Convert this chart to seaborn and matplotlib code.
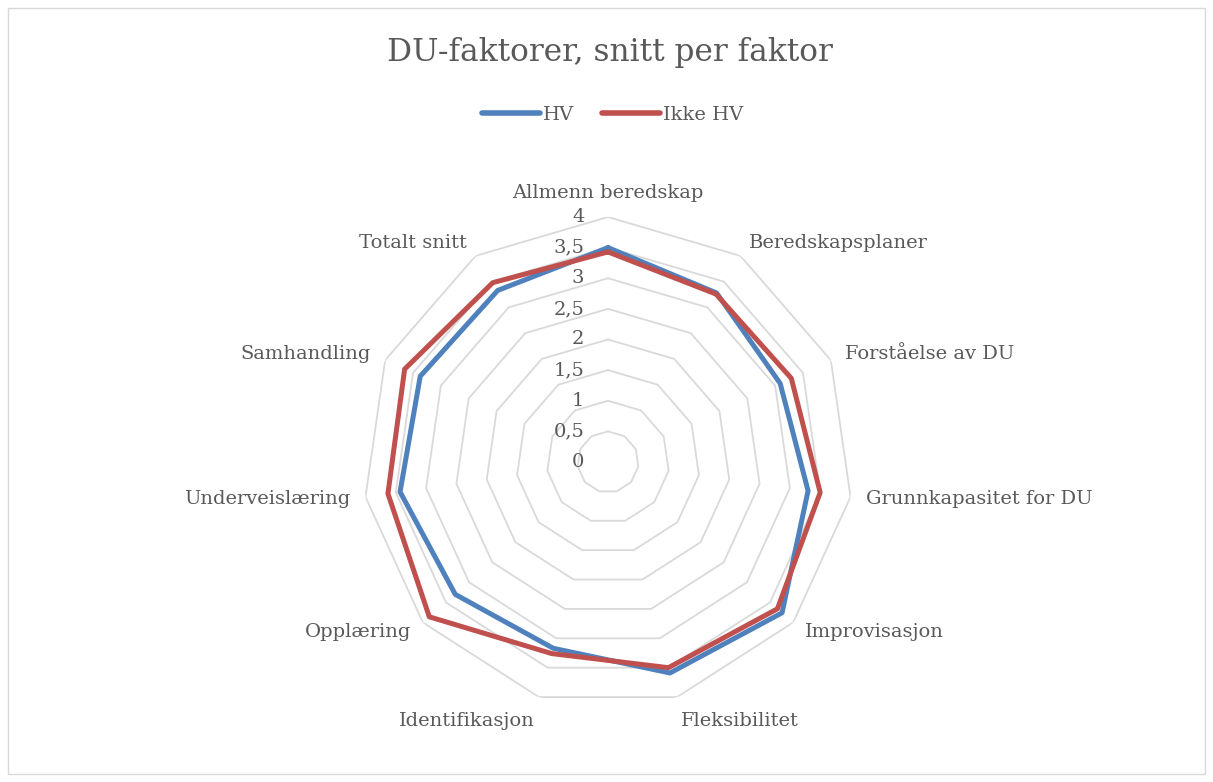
import numpy as np
import pandas as pd
import matplotlib
matplotlib.use("Agg")
import matplotlib.pyplot as plt
import matplotlib.transforms as mtransforms
from matplotlib.patches import Rectangle
import seaborn as sns

# Chart data
CATEGORIES = [
    "Allmenn beredskap", "Beredskapsplaner", "Forståelse av DU",
    "Grunnkapasitet for DU", "Improvisasjon", "Fleksibilitet",
    "Identifikasjon", "Opplæring", "Underveislæring", "Samhandling",
    "Totalt snitt",
]
HV = [3.50, 3.28, 3.09, 3.30, 3.76, 3.59, 3.17, 3.30, 3.43, 3.37, 3.33]
IKKE_HV = [3.43, 3.26, 3.29, 3.50, 3.66, 3.50, 3.26, 3.86, 3.63, 3.65, 3.48]
SERIES = ["HV", "Ikke HV"]
RING_VALUES = [0, 0.5, 1, 1.5, 2, 2.5, 3, 3.5, 4]
RING_LABELS = ["0", "0,5", "1", "1,5", "2", "2,5", "3", "3,5", "4"]

BLUE = "#4f81bd"
RED = "#c0504d"
TEXT = "#595959"
GRID = "#d9d9d9"

sns.set_theme(style="white")
plt.rcParams["font.family"] = ["DejaVu Serif"]

n = len(CATEGORIES)
angles = np.arange(n) * 2 * np.pi / n
closed = np.append(angles, 2 * np.pi)

# long table, first value repeated at 2*pi to close each polygon
rows = []
for name, vals in zip(SERIES, [HV, IKKE_HV]):
    for theta, v in zip(closed, list(vals) + [vals[0]]):
        rows.append({"series": name, "theta": theta, "value": v})
df = pd.DataFrame(rows)

fig = plt.figure(figsize=(12.13, 7.82), dpi=100)
fig.patches.append(Rectangle((0.007, 0.01), 0.986, 0.98, transform=fig.transFigure,
                             fill=False, edgecolor=GRID, linewidth=1))

cx, cy, R = 608, 782 - 462, 245
ax = fig.add_axes([(cx - R) / 1213, (cy - R) / 782, 2 * R / 1213, 2 * R / 782],
                  projection="polar")
ax.set_theta_zero_location("N")
ax.set_theta_direction(-1)
ax.spines["polar"].set_visible(False)
ax.grid(False)

# polygon rings
for rv in RING_VALUES[1:]:
    ax.plot(closed, [rv] * (n + 1), color=GRID, linewidth=1.3, zorder=1)

sns.lineplot(data=df, x="theta", y="value", hue="series", sort=False,
             palette=[BLUE, RED], linewidth=3.6, ax=ax, legend=False, zorder=3)
ax.set_xlabel("")
ax.set_ylabel("")
ax.set_xticks([])
ax.set_yticks([])
ax.set_ylim(0, 4)

# radial labels, right-aligned left of the vertical axis
off = mtransforms.offset_copy(ax.transData, fig=fig, x=-17, y=0, units="points")
for rv, lab in zip(RING_VALUES, RING_LABELS):
    ax.text(0, rv, lab, transform=off, ha="right", va="center",
            fontsize=14, color=TEXT)

# category labels
for ang, lab in zip(angles, CATEGORIES):
    s, c = np.sin(ang), np.cos(ang)
    ha = "left" if s > 0.1 else ("right" if s < -0.1 else "center")
    va = "bottom" if c > 0.95 else ("top" if c < -0.95 else "center")
    ax.text(ang, 4.25, lab, ha=ha, va=va, fontsize=14, color=TEXT)

fig.text(0.503, 1 - 52 / 782, "DU-faktorer, snitt per faktor", ha="center",
         va="center", fontsize=22.5, color=TEXT)

handles = [plt.Line2D([], [], color=BLUE, linewidth=4, solid_capstyle="round"),
           plt.Line2D([], [], color=RED, linewidth=4, solid_capstyle="round")]
fig.legend(handles, SERIES, loc="center", bbox_to_anchor=(0.505, 1 - 115 / 782),
           ncol=2, frameon=False, fontsize=14, labelcolor=TEXT,
           handlelength=3.0, handletextpad=0.15, columnspacing=1.4)

fig.savefig("out.png", dpi=100, facecolor="white")
